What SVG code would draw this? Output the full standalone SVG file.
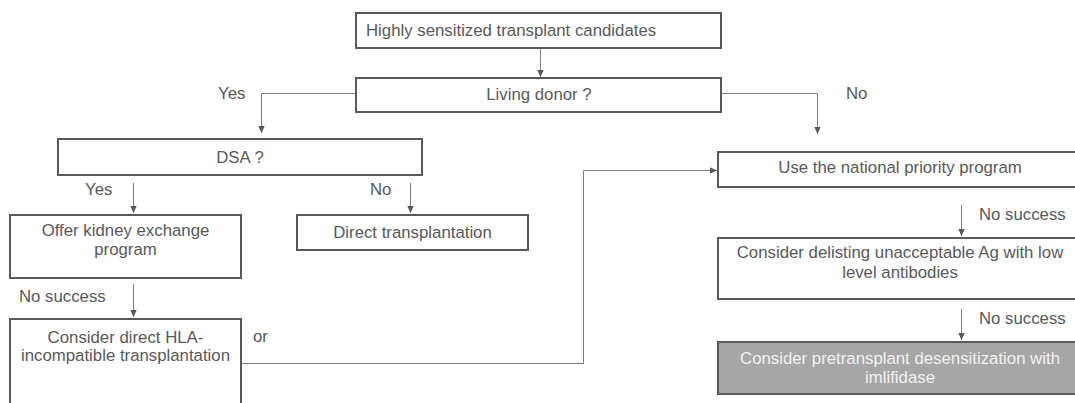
<svg xmlns="http://www.w3.org/2000/svg" width="1075" height="403" viewBox="0 0 1075 403">
<defs>
<style>
.box{fill:#ffffff;stroke:#595959;stroke-width:2}
.grey{fill:#a6a6a6;stroke:#595959;stroke-width:2}
.t{font-family:"Liberation Sans",Arial,sans-serif;font-size:16.8px;fill:#595959}
.c{text-anchor:middle}
.w{fill:#f2f2f2}
.ln{fill:none;stroke:#7f7f7f;stroke-width:1}
</style>
<marker id="ah" markerUnits="userSpaceOnUse" markerWidth="8" markerHeight="8" viewBox="0 0 8 8" refX="7" refY="4" orient="auto">
<path d="M0,0.8 L7,4 L0,7.2 Z" fill="#595959"/>
</marker>
</defs>
<rect width="1075" height="403" fill="#ffffff"/>
<g id="connectors">
<line class="ln" x1="540.5" y1="48" x2="540.5" y2="77" marker-end="url(#ah)"/>
<polyline class="ln" points="355,93.5 261.5,93.5 261.5,133" marker-end="url(#ah)"/>
<polyline class="ln" points="721,93.5 817.5,93.5 817.5,134" marker-end="url(#ah)"/>
<line class="ln" x1="133.5" y1="183" x2="133.5" y2="213" marker-end="url(#ah)"/>
<line class="ln" x1="410.5" y1="183" x2="410.5" y2="213" marker-end="url(#ah)"/>
<line class="ln" x1="133.5" y1="284" x2="133.5" y2="317" marker-end="url(#ah)"/>
<polyline class="ln" points="241,363.5 583.5,363.5 583.5,170.5 717,170.5" marker-end="url(#ah)"/>
<line class="ln" x1="961.5" y1="205" x2="961.5" y2="236" marker-end="url(#ah)"/>
<line class="ln" x1="961.5" y1="309" x2="961.5" y2="340" marker-end="url(#ah)"/>
</g>
<g id="labels">
<text class="t" x="218" y="99">Yes</text>
<text class="t" x="846" y="99">No</text>
<text class="t" x="85" y="195">Yes</text>
<text class="t" x="370" y="195">No</text>
<text class="t" x="19" y="302">No success</text>
<text class="t" x="253" y="342">or</text>
<text class="t" x="979" y="220">No success</text>
<text class="t" x="979" y="324">No success</text>
</g>
<g id="n1"><rect class="box" x="356" y="13" width="365" height="35"/><text class="t" x="366" y="36">Highly sensitized transplant candidates</text></g>
<g id="n2"><rect class="box" x="356" y="78" width="365" height="34"/><text class="t c" x="539" y="100">Living donor ?</text></g>
<g id="n3"><rect class="box" x="58" y="139" width="364" height="36"/><text class="t c" x="240" y="163">DSA ?</text></g>
<g id="n4"><rect class="box" x="10" y="215" width="231" height="63"/><text class="t c" x="125.5" y="236">Offer kidney exchange</text><text class="t c" x="125.5" y="255">program</text></g>
<g id="n5"><rect class="box" x="297" y="215" width="231" height="35"/><text class="t c" x="412.5" y="238">Direct transplantation</text></g>
<g id="n6"><rect class="box" x="10" y="319" width="231" height="95"/><text class="t c" x="125.5" y="343">Consider direct HLA-</text><text class="t c" x="125.5" y="361">incompatible transplantation</text></g>
<g id="n7"><rect class="box" x="718" y="152" width="365" height="35"/><text class="t c" x="900" y="173">Use the national priority program</text></g>
<g id="n8"><rect class="box" x="718" y="238" width="365" height="61"/><text class="t c" x="900" y="258">Consider delisting unacceptable Ag with low</text><text class="t c" x="900" y="278">level antibodies</text></g>
<g id="n9"><rect class="grey" x="718" y="342" width="365" height="52"/><text class="t c w" x="900" y="364">Consider pretransplant desensitization with</text><text class="t c w" x="900" y="383">imlifidase</text></g>
</svg>
